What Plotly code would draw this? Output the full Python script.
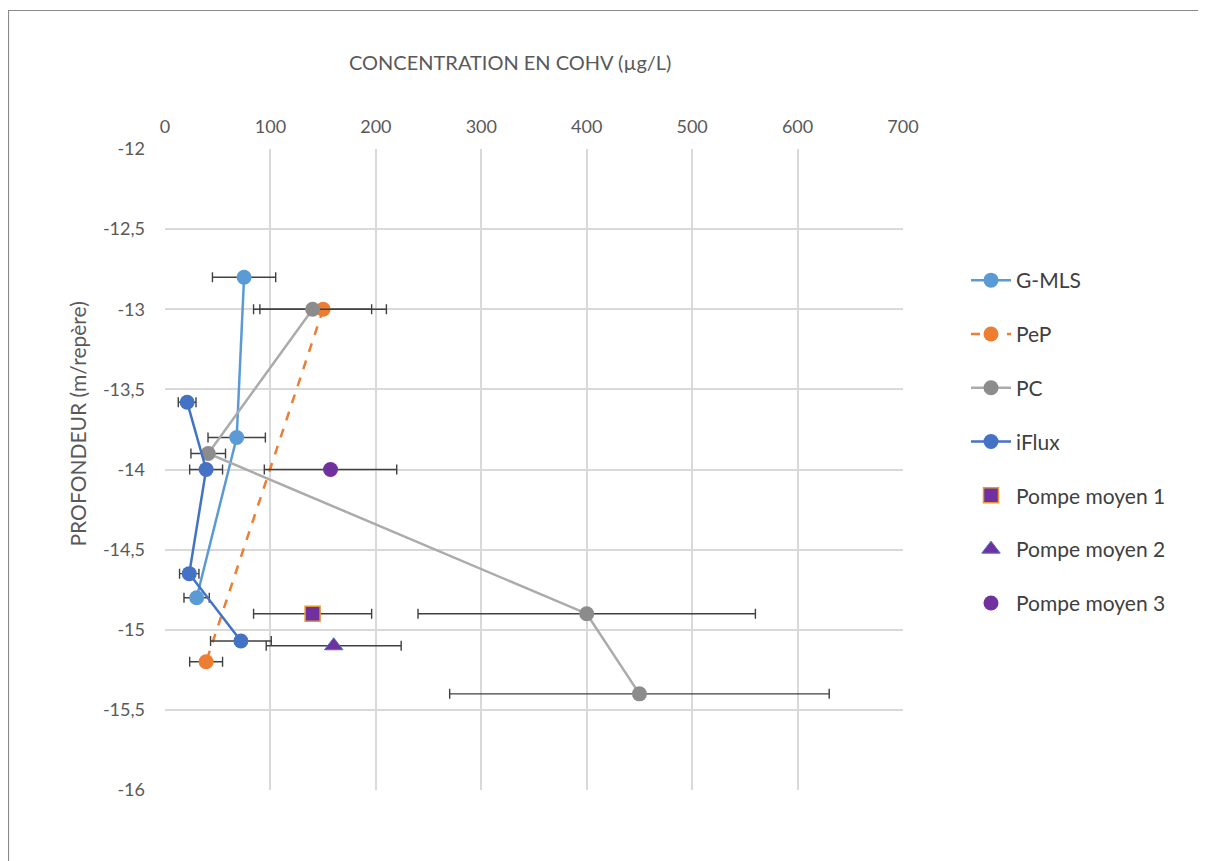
import plotly.graph_objects as go

# concentrations (µg/L) and depths (m/repère)
gmls_x = [75, 68, 30]
gmls_y = [-12.8, -13.8, -14.8]
pep_x = [150, 39]
pep_y = [-13.0, -15.2]
pc_x = [140, 41, 400, 450]
pc_y = [-13.0, -13.9, -14.9, -15.4]
iflux_x = [21, 39, 23, 72]
iflux_y = [-13.58, -14.0, -14.65, -15.07]
pompe1_x = [140]
pompe1_y = [-14.9]
pompe2_x = [160]
pompe2_y = [-15.1]
pompe3_x = [157]
pompe3_y = [-14.0]
err_pct = 40

y_ticks = [-12, -12.5, -13, -13.5, -14, -14.5, -15, -15.5, -16]
y_labels = ["-12", "-12,5", "-13", "-13,5", "-14", "-14,5", "-15", "-15,5", "-16"]

FONT = "Lato"
GRAY_TXT = "#595959"

err = dict(type="percent", value=err_pct, color="#404040", thickness=1.4, width=5)

series = [
    ("G-MLS", gmls_x, gmls_y, dict(mode="lines+markers",
        line=dict(color="#5B9BD5", width=2.5),
        marker=dict(color="#5B9BD5", size=15, symbol="circle"))),
    ("PeP", pep_x, pep_y, dict(mode="lines+markers",
        line=dict(color="#ED7D31", width=2.5, dash="dash"),
        marker=dict(color="#ED7D31", size=15, symbol="circle"))),
    ("PC", pc_x, pc_y, dict(mode="lines+markers",
        line=dict(color="#ABABAB", width=2.5),
        marker=dict(color="#8C8C8C", size=15, symbol="circle"))),
    ("iFlux", iflux_x, iflux_y, dict(mode="lines+markers",
        line=dict(color="#4472C4", width=2.5),
        marker=dict(color="#4472C4", size=15, symbol="circle"))),
    ("Pompe moyen 1", pompe1_x, pompe1_y, dict(mode="markers",
        marker=dict(color="#7030A0", size=15, symbol="square",
                    line=dict(color="#E59A2E", width=1.5)))),
    ("Pompe moyen 2", pompe2_x, pompe2_y, dict(mode="markers",
        marker=dict(color="#7030A0", size=16, symbol="triangle-up",
                    line=dict(color="#4472C4", width=1)))),
    ("Pompe moyen 3", pompe3_x, pompe3_y, dict(mode="markers",
        marker=dict(color="#7030A0", size=15, symbol="circle"))),
]

fig = go.Figure()
for i, (name, xs, ys, style) in enumerate(series):
    fig.add_trace(go.Scatter(x=xs, y=ys, name=name, legendgroup=str(i),
                             error_x=err, **style))

# the html page adds an 8px body margin, so work in screen pixels and shift
OFF = 8
W, H = 1206 - OFF, 861 - OFF
L, T = 165 - OFF, 149 - OFF
pw, ph = 738, 641
R, B = W - L - pw, H - T - ph

def px(x):
    return (x - OFF - L) / pw

def py(y):
    return (T + ph - (y - OFF)) / ph

fig.update_layout(
    width=W, height=H,
    margin=dict(l=L, r=R, t=T, b=B),
    paper_bgcolor="white", plot_bgcolor="white",
    font=dict(family=FONT, size=18, color=GRAY_TXT),
    legend=dict(x=px(966), y=py(260), xanchor="left", yanchor="top",
                font=dict(size=21, color="#404040"), tracegroupgap=23.5,
                traceorder="grouped", itemwidth=40),
    xaxis=dict(range=[0, 700], dtick=100, side="top", showgrid=True,
               gridcolor="#D9D9D9", gridwidth=1.5, zeroline=False,
               showline=False, ticks="", ticklabelstandoff=11,
               tickfont=dict(size=18, color=GRAY_TXT)),
    yaxis=dict(range=[-16, -12], tickvals=y_ticks, ticktext=y_labels,
               showgrid=True, gridcolor="#D9D9D9", gridwidth=1.5,
               zeroline=False, showline=False, ticks="",
               ticklabelstandoff=19,
               tickfont=dict(size=18, color=GRAY_TXT)),
    annotations=[
        dict(text="CONCENTRATION EN COHV (µg/L)", xref="paper", yref="paper",
             x=px(510), y=py(48), showarrow=False,
             font=dict(size=20, color=GRAY_TXT)),
        dict(text="PROFONDEUR (m/repère)", xref="paper", yref="paper",
             x=px(62), y=py(424), showarrow=False, textangle=-90,
             font=dict(size=21, color=GRAY_TXT)),
    ],
    shapes=[
        dict(type="rect", xref="paper", yref="paper",
             x0=px(8.5), x1=px(1220), y0=py(880), y1=py(10.5),
             line=dict(color="#8A8A8A", width=1.2)),
    ],
)

fig.write_html("out.html")
